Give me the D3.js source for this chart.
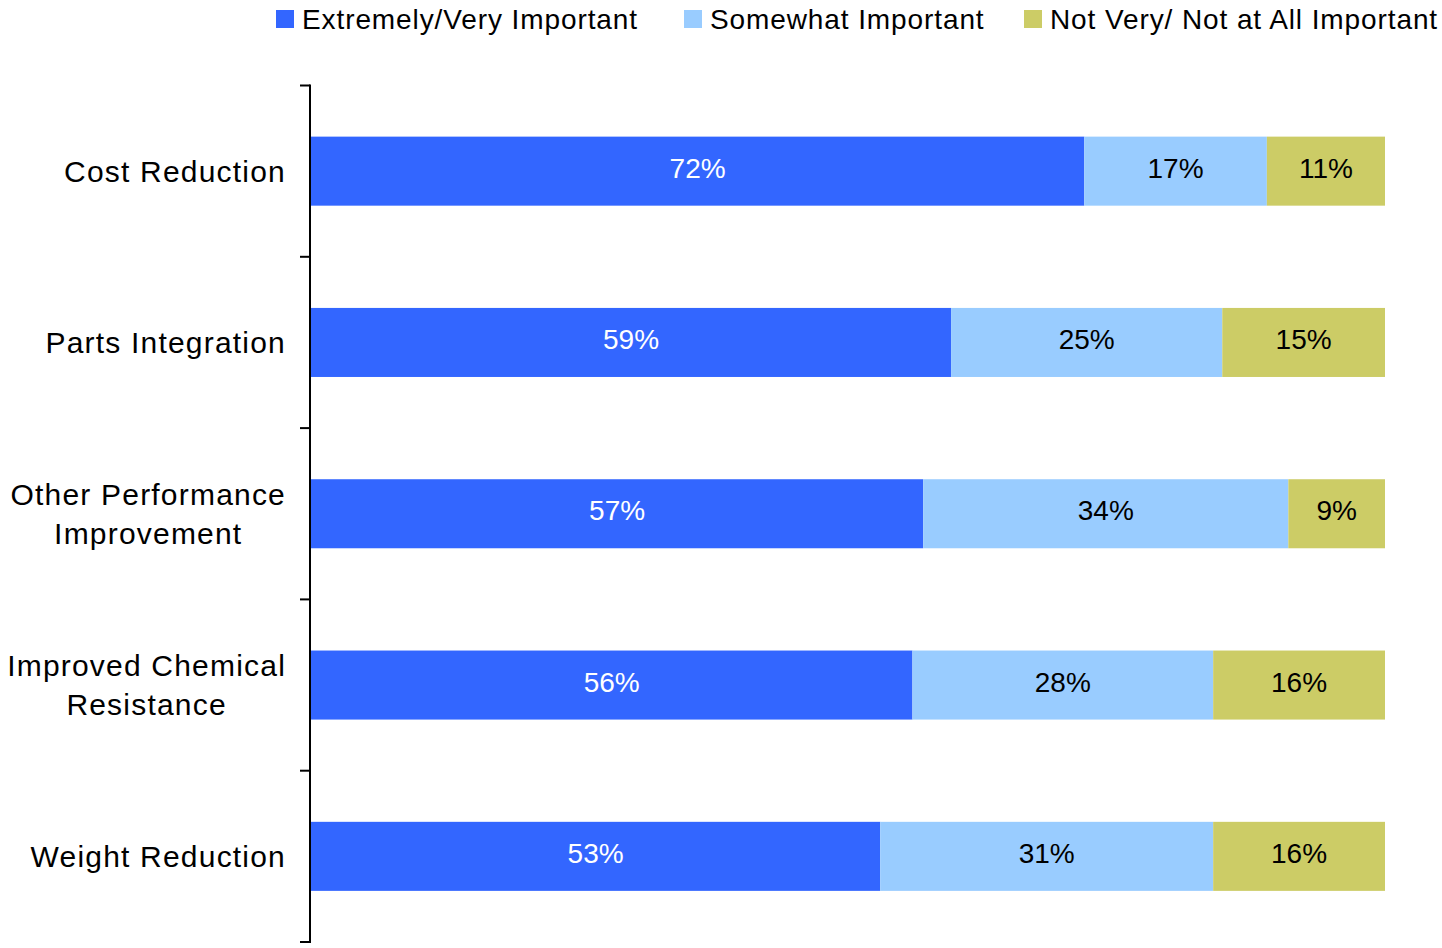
<!DOCTYPE html>
<html><head><meta charset="utf-8">
<script src="https://cdn.jsdelivr.net/npm/d3@7"></script>
<style>
html,body{margin:0;padding:0;background:#fff;}
svg{display:block;font-family:"Liberation Sans",Arial,sans-serif;}
</style></head>
<body><svg id="c" width="1442" height="948"></svg>
<script>
const categories = ["Cost Reduction", "Parts Integration", "Other Performance\nImprovement", "Improved Chemical\nResistance", "Weight Reduction"];
const seriesNames = ["Extremely/Very Important", "Somewhat Important", "Not Very/ Not at All Important"];
const extremelyVery = [72, 59, 57, 56, 53];
const somewhat = [17, 25, 34, 28, 31];
const notVery = [11, 15, 9, 16, 16];
const colors = ["#3366FF", "#99CCFF", "#CCCC66"];
const labelColors = ["#ffffff", "#000000", "#000000"];

(function () {
const svg = d3.select("#c");
const series = [extremelyVery, somewhat, notVery];
const rows = categories.map((c, i) => {
  const vals = series.map(s => s[i]);
  const tot = d3.sum(vals);
  let acc = 0;
  return {cat: c, segs: vals.map((v, k) => { const s = {k, v, x0: acc / tot * 100, x1: (acc + v) / tot * 100}; acc += v; return s; })};
});

const axisX = 310, yTop = 85.5, yBottom = 942;
const y = d3.scaleBand().domain(categories).range([yTop, yBottom]).paddingInner(0.597).paddingOuter(0.2985);
const x = d3.scaleLinear().domain([0, 100]).range([311, 1385]);

const g = svg.append("g");
rows.forEach(r => {
  const yy = y(r.cat);
  r.segs.forEach(s => {
    g.append("rect").attr("x", x(s.x0)).attr("y", yy).attr("width", x(s.x1) - x(s.x0)).attr("height", y.bandwidth()).attr("fill", colors[s.k]);
    g.append("text").attr("x", (x(s.x0) + x(s.x1)) / 2).attr("y", yy + y.bandwidth() / 2 - 3)
      .attr("text-anchor", "middle").attr("dominant-baseline", "central")
      .attr("font-size", 28).attr("fill", labelColors[s.k]).text(s.v + "%");
  });
});

svg.append("line").attr("x1", axisX).attr("x2", axisX).attr("y1", yTop - 1).attr("y2", yBottom + 1).attr("stroke", "#000").attr("stroke-width", 2);
const step = y.step();
d3.range(categories.length + 1).forEach(i => {
  const ty = yTop + i * step;
  svg.append("line").attr("x1", axisX - 10).attr("x2", axisX).attr("y1", ty).attr("y2", ty).attr("stroke", "#000").attr("stroke-width", 2);
});

categories.forEach(c => {
  const lines = c.split("\n");
  const cy = y(c) + y.bandwidth() / 2;
  const t = svg.append("text").attr("font-size", 30).attr("letter-spacing", 1.2).attr("fill", "#000").attr("text-anchor", "middle");
  const lh = 39;
  lines.forEach((l, j) => {
    t.append("tspan").attr("x", 0).attr("y", cy + (j - (lines.length - 1) / 2) * lh).attr("dominant-baseline", "central").text(l);
  });
  const w = t.node().getBBox().width;
  t.selectAll("tspan").attr("x", 286 - w / 2);
});

const legendX = [276, 684, 1024];
seriesNames.forEach((n, i) => {
  svg.append("rect").attr("x", legendX[i]).attr("y", 10).attr("width", 18).attr("height", 18).attr("fill", colors[i]);
  svg.append("text").attr("x", legendX[i] + 26).attr("y", 19).attr("dominant-baseline", "central").attr("font-size", 28).attr("letter-spacing", 0.9).attr("fill", "#000").text(n);
});
})();
</script></body></html>
